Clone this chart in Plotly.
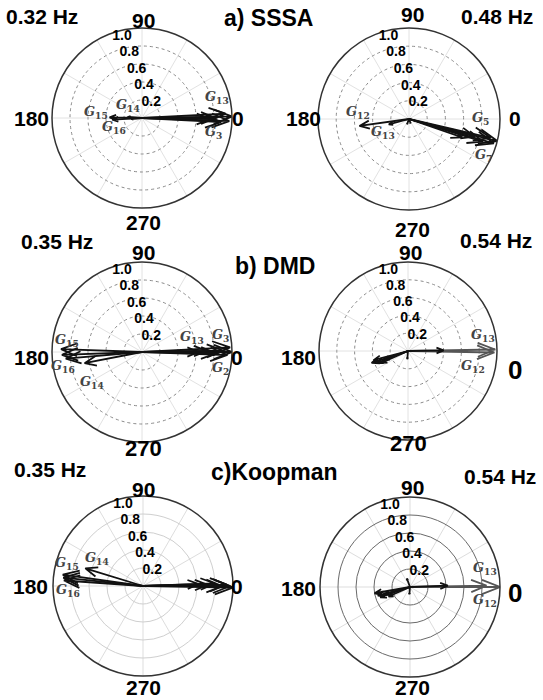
import numpy as np
import plotly.graph_objects as go

W, H = 543, 700

# ---------------- data (magnitude, angle in degrees) ----------------
sssa_032_mag = [1.00, 0.97, 0.93, 0.88, 0.82, 0.76, 0.36, 0.33, 0.16, 0.12]
sssa_032_ang = [1, -2, 3, -3, 0, -1, 179, 183, 176, 185]

sssa_048_mag = [1.00, 0.97, 0.92, 0.85, 0.75, 0.62, 0.55, 0.23, 0.06, 0.05]
sssa_048_ang = [-14, -16, -13, -17, -15, -19, 188, 195, 250, 290]

dmd_035_mag = [1.00, 0.98, 0.95, 0.90, 0.82, 0.72, 0.63, 0.90, 0.89, 0.85, 0.65]
dmd_035_ang = [0, 3, -2, 1, -1, 1, 0, 178, 182, 185, 191]

dmd_054_mag_major = [0.98, 0.97]
dmd_054_ang_major = [1, -1]
dmd_054_mag = [0.40, 0.43, 0.40, 0.38, 0.33, 0.28, 0.09]
dmd_054_ang = [1, 198, 195, 201, 204, 200, 265]

koop_035_mag = [1.00, 0.97, 0.93, 0.88, 0.80, 0.72, 0.62, 0.90, 0.89, 0.88, 0.67]
koop_035_ang = [-1, 0, 1, 0, 2, 1, 2, 172, 174, 176, 163]

koop_054_mag_major = [1.00, 0.85]
koop_054_ang_major = [0, 1]
koop_054_mag = [0.42, 0.40, 0.37, 0.35, 0.30, 0.26, 0.10, 0.08]
koop_054_ang = [2, 190, 195, 199, 196, 204, 110, 265]

radial_ticks = [0.2, 0.4, 0.6, 0.8, 1.0]
radial_text = ["0.2", "0.4", "0.6", "0.8", "1.0"]
angle_ticks = list(range(0, 360, 30))
cardinal_text = ["0", "90", "180", "270"]

titles_freq = ["0.32 Hz", "0.48 Hz", "0.35 Hz", "0.54 Hz", "0.35 Hz", "0.54 Hz"]
method_titles = ["a) SSSA", "b) DMD", "c)Koopman"]


def compass(mags, angs):
    """MATLAB compass-style arrows -> polar coordinates (r, theta)."""
    shape = np.array([0, 1, 0.8 + 0.08j, 1, 0.8 - 0.08j])
    rs, ts = [], []
    for m, a in zip(mags, angs):
        z = m * np.exp(1j * np.deg2rad(a))
        w = shape * z
        rs += list(np.abs(w)) + [None]
        ts += list(np.rad2deg(np.angle(w))) + [None]
    return rs, ts


RAD_ANGLE = 114

# layout of each panel (pixels): circle centre, radius, positions of 0/90/180/270 labels
panels = [
    dict(center=(142, 118), R=90, sets=[(sssa_032_mag, sssa_032_ang, "#111")], style="dot",
         card=[(238, 118, 21), (143, 20, 21), (31, 118, 21), (143, 223, 21)]),
    dict(center=(409, 119), R=91, sets=[(sssa_048_mag, sssa_048_ang, "#111")], style="dot",
         card=[(515, 118, 21), (413, 14, 21), (303, 118, 21), (413, 230, 21)]),
    dict(center=(142, 352), R=90, sets=[(dmd_035_mag, dmd_035_ang, "#111")], style="dot",
         card=[(237, 357, 21), (143, 252, 21), (31, 357, 21), (143, 448, 22)]),
    dict(center=(408, 351), R=89, sets=[(dmd_054_mag_major, dmd_054_ang_major, "#555"),
                                         (dmd_054_mag, dmd_054_ang, "#111")], style="dot",
         card=[(515, 370, 26), (410, 252, 21), (298, 357, 21), (408, 443, 22)]),
    dict(center=(143, 586), R=90, sets=[(koop_035_mag, koop_035_ang, "#111")], style="light",
         card=[(237, 586, 21), (143, 490, 21), (30, 586, 21), (143, 687, 21)]),
    dict(center=(410, 587), R=90, sets=[(koop_054_mag_major, koop_054_ang_major, "#555"),
                                         (koop_054_mag, koop_054_ang, "#111")], style="dark",
         card=[(515, 593, 26), (412, 487, 21), (298, 588, 21), (412, 687, 21)]),
]

fig = go.Figure()
bold = dict(family="Liberation Sans, Arial, sans-serif", color="black", weight="bold")


def px(x, y):
    return x / W, 1 - y / H


ann = []
for i, p in enumerate(panels):
    key = "polar" if i == 0 else f"polar{i+1}"
    cx, cy = p["center"]
    R = p["R"]
    for mags, angs, col in p["sets"]:
        r, t = compass(mags, angs)
        fig.add_trace(go.Scatterpolar(r=r, theta=t, mode="lines",
                                      line=dict(color=col, width=1.8),
                                      subplot=key, showlegend=False, hoverinfo="skip"))
    if p["style"] == "dot":
        rgrid = dict(gridcolor="#8a8a8a", griddash="dot", gridwidth=1)
        agrid = dict(gridcolor="#e2e2e2", gridwidth=1)
    elif p["style"] == "light":
        rgrid = dict(gridcolor="#cfcfcf", griddash="solid", gridwidth=1)
        agrid = dict(gridcolor="#dddddd", gridwidth=1)
    else:
        rgrid = dict(gridcolor="#6a6a6a", griddash="solid", gridwidth=1)
        agrid = dict(gridcolor="#dddddd", gridwidth=1)
    fig.layout[key] = dict(
        domain=dict(x=[(cx - R) / W, (cx + R) / W], y=[1 - (cy + R) / H, 1 - (cy - R) / H]),
        bgcolor="white",
        radialaxis=dict(range=[0, 1], tickmode="array", tickvals=radial_ticks, ticktext=radial_text,
                        angle=RAD_ANGLE, tickangle=RAD_ANGLE, showline=False, ticks="",
                        tickfont=dict(bold, size=14), **rgrid),
        angularaxis=dict(tickmode="array", tickvals=angle_ticks, showticklabels=False, ticks="",
                         showline=True, linecolor="#333", linewidth=1.5,
                         direction="counterclockwise", rotation=0, **agrid),
    )
    for txt, (x, y, s) in zip(cardinal_text, p["card"]):
        X, Y = px(x, y)
        ann.append(dict(x=X, y=Y, text=txt, font=dict(bold, size=s)))

# titles
freq_pos = [(42, 17), (497, 17), (57, 242), (496, 240), (50, 470), (500, 477)]
for txt, (x, y) in zip(titles_freq, freq_pos):
    X, Y = px(x, y)
    ann.append(dict(x=X, y=Y, text=txt, font=dict(bold, size=21)))
for txt, (x, y) in zip(method_titles, [(268, 18), (275, 266), (274, 472)]):
    X, Y = px(x, y)
    ann.append(dict(x=X, y=Y, text=txt, font=dict(bold, size=23)))

# generator labels
g_labels = [
    ("13", 217, 97), ("3", 213, 132), ("15", 96, 112), ("14", 128, 105), ("16", 114, 128),
    ("12", 358, 112), ("13", 383, 133), ("5", 480, 118), ("7", 483, 155),
    ("15", 67, 340), ("16", 63, 367), ("14", 92, 382), ("13", 192, 337), ("3", 220, 335), ("2", 220, 368),
    ("13", 483, 335), ("12", 473, 367),
    ("15", 67, 563), ("14", 97, 558), ("16", 68, 590),
    ("13", 485, 568), ("12", 485, 600),
]
for sub, x, y in g_labels:
    X, Y = px(x, y)
    ann.append(dict(x=X, y=Y, text=f"<i>G</i><sub>{sub}</sub>",
                    font=dict(family="DejaVu Serif, serif", size=13, color="#444", weight="bold")))

for a in ann:
    a.update(xref="paper", yref="paper", showarrow=False, xanchor="center", yanchor="middle")
fig.update_layout(annotations=ann, width=W, height=H, margin=dict(l=0, r=0, t=0, b=0),
                  paper_bgcolor="white", showlegend=False)

fig.write_html("out.html", config={"displayModeBar": False},
               post_script="document.body.style.margin='0px';")
